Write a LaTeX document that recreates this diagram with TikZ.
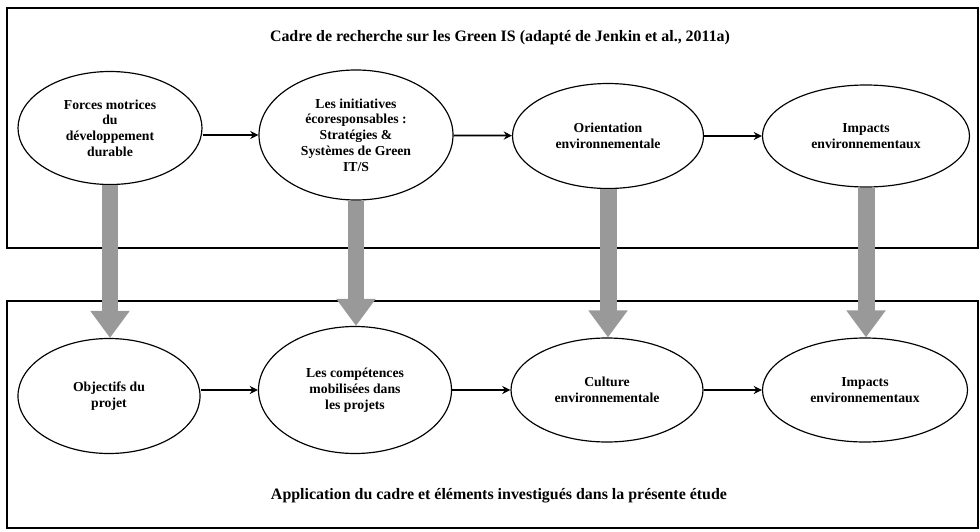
\documentclass[tikz,border=0pt]{standalone}
\usepackage{fontspec}
\setmainfont{Liberation Serif}
\usepackage{tikz}
\usetikzlibrary{arrows.meta, positioning, shapes.geometric, calc}

\tikzset{
  frame/.style={draw, line width=1pt},
  oval/.style={ellipse, draw, line width=1pt, inner sep=0pt, align=center,
    font=\bfseries\fontsize{11.7}{13.4}\selectfont},
  caption/.style={font=\bfseries\fontsize{13.6}{15}\selectfont},
  flow/.style={line width=1.5pt, -{Stealth[length=7pt, width=7pt]}},
  feed/.style={black!40, line width=14.5pt, -{Triangle[width=32pt, length=23pt]}}
}

\begin{document}
\begin{tikzpicture}[x=0.03cm, y=-0.03cm]
  \useasboundingbox (0,0) rectangle (980,531);
  % Frames
  \draw[frame] (7,8) rectangle (978,248);
  \draw[frame] (7,301) rectangle (978,528);
  \node[caption] (capTop) at (500,38) {Cadre de recherche sur les Green IS (adapté de Jenkin et al., 2011a)};
  \node[caption] (capBot) at (499,496) {Application du cadre et éléments investigués dans la présente étude};

  % Top row: Green IS framework
  \node[oval, minimum width=5.52cm, minimum height=3.39cm] (drv) at (110,128)
    {Forces motrices\\du\\développement\\durable};
  \node[oval, minimum width=5.82cm, minimum height=3.9cm] (init) at (356,135)
    {Les initiatives\\écoresponsables :\\Stratégies \&\\Systèmes de Green\\IT/S};
  \node[oval, minimum width=5.73cm, minimum height=3.15cm] (orient) at (608,136)
    {Orientation\\environnementale};
  \node[oval, minimum width=6.21cm, minimum height=3.06cm] (impTop) at (866,136)
    {Impacts\\environnementaux};

  % Bottom row: this study
  \node[oval, minimum width=5.46cm, minimum height=3.45cm] (obj) at (109,396)
    {Objectifs du\\projet};
  \node[oval, minimum width=5.79cm, minimum height=3.81cm] (comp) at (355,390)
    {Les compétences\\mobilisées dans\\les projets};
  \node[oval, minimum width=5.76cm, minimum height=3.12cm] (cult) at (607,390)
    {Culture\\environnementale};
  \node[oval, minimum width=6.15cm, minimum height=3.12cm] (impBot) at (865,390)
    {Impacts\\environnementaux};

  % Horizontal links
  \draw[flow] (drv.east |- init) -- (init);
  \draw[flow] (init) -- (orient);
  \draw[flow] (orient) -- (impTop);
  \draw[flow] (obj.east |- comp) -- (comp);
  \draw[flow] (comp) -- (cult);
  \draw[flow] (cult) -- (impBot);

  % Vertical grey arrows
  \foreach \a/\b in {drv/obj, init/comp, orient/cult, impTop/impBot}
    \draw[feed] (\a.south) -- (\a.south |- \b.north);
\end{tikzpicture}
\end{document}
